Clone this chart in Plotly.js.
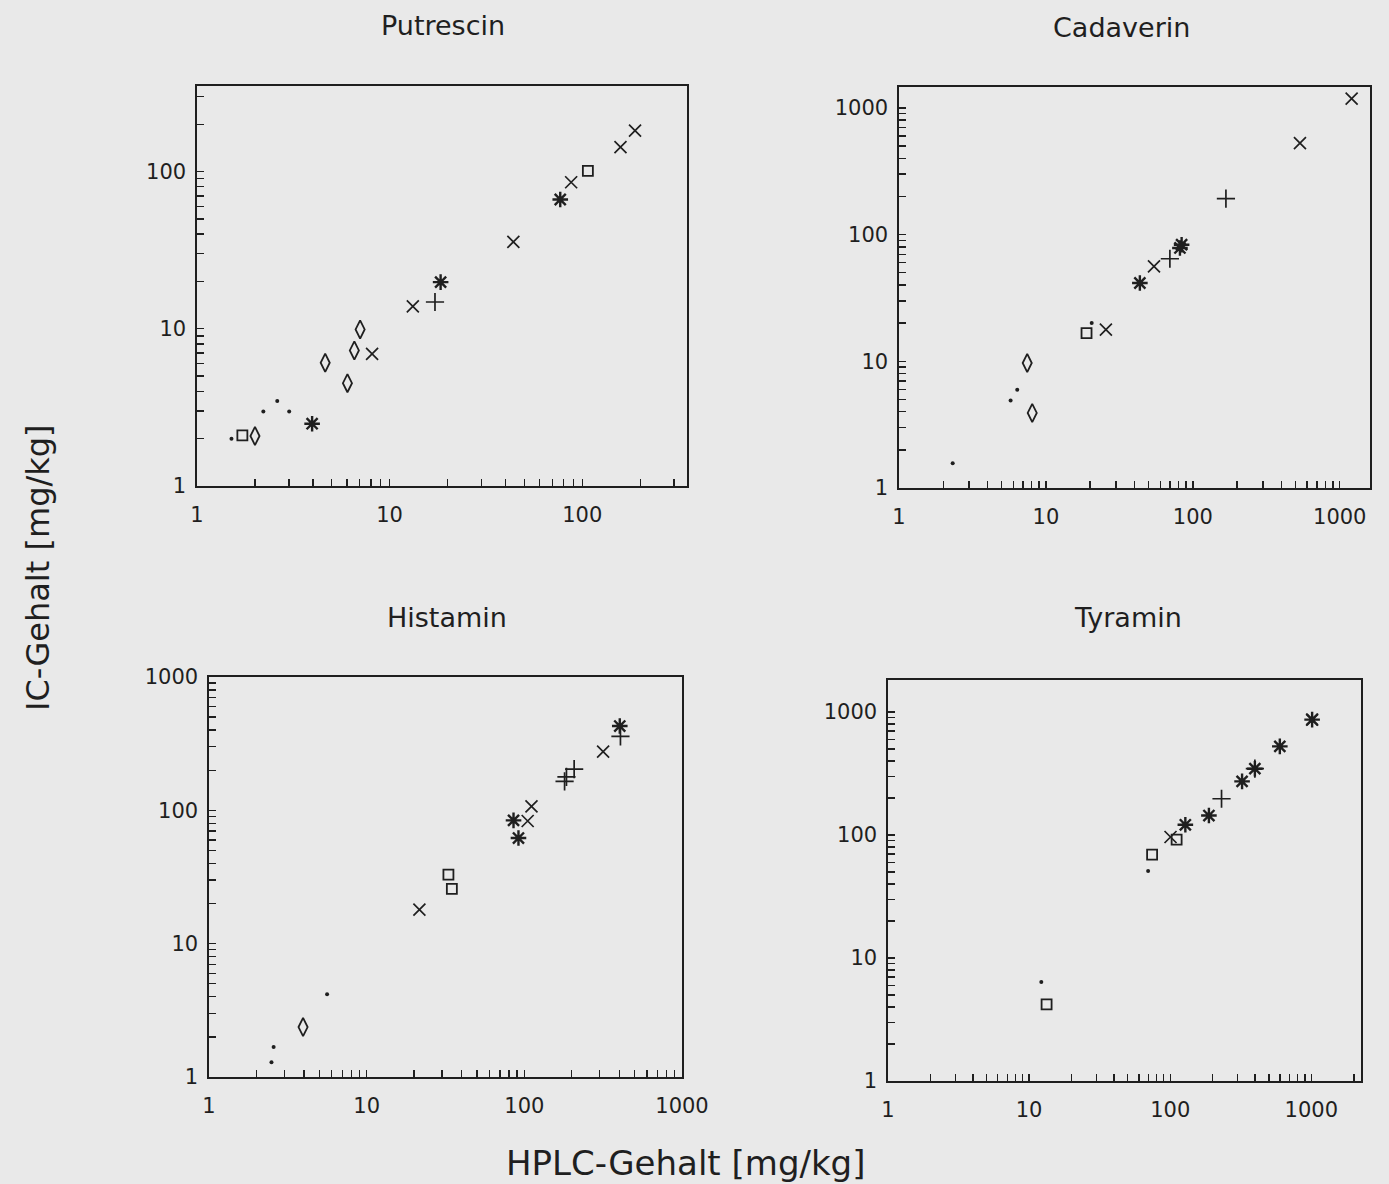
<!DOCTYPE html>
<html>
<head>
<meta charset="utf-8">
<script src="https://cdn.plot.ly/plotly-3.0.1.min.js"></script>
<style>
html,body{margin:0;padding:0;background:#e9e9e9;}
#chart{width:1389px;height:1184px;}
</style>
</head>
<body>
<div id="chart"></div>
<script>
// ---------- DATA ----------
const panelTitles = ["Putrescin", "Cadaverin", "Histamin", "Tyramin"];
const yAxisTitle = "IC-Gehalt [mg/kg]";
const xAxisTitle = "HPLC-Gehalt [mg/kg]";

// Putrescin
const putDotX = [1.51, 2.21, 2.61, 3.01];
const putDotY = [2.0, 2.98, 3.47, 2.98];
const putSquareX = [1.72, 107];
const putSquareY = [2.1, 101];
const putDiamondX = [2.0, 4.63, 6.04, 6.56, 7.03];
const putDiamondY = [2.08, 6.08, 4.51, 7.28, 9.9];
const putStarX = [3.96, 18.4, 76.9];
const putStarY = [2.49, 19.8, 66.4];
const putCrossX = [8.11, 13.2, 43.9, 87.6, 158, 188];
const putCrossY = [6.93, 13.9, 35.7, 85.5, 143, 182];
const putPlusX = [17.2];
const putPlusY = [14.8];

// Cadaverin
const cadDotX = [2.32, 5.75, 6.38, 20.5];
const cadDotY = [1.57, 4.91, 5.97, 20.1];
const cadSquareX = [18.9];
const cadSquareY = [16.7];
const cadDiamondX = [7.46, 8.07];
const cadDiamondY = [9.7, 3.91];
const cadStarX = [43.6, 81.7, 83.9];
const cadStarY = [41.5, 78.4, 83.2];
const cadCrossX = [25.6, 54.4, 536, 1205];
const cadCrossY = [17.8, 56.1, 528, 1183];
const cadPlusX = [69.8, 168];
const cadPlusY = [64.5, 192];

// Histamin
const hisDotX = [2.49, 2.57, 5.61];
const hisDotY = [1.29, 1.68, 4.17];
const hisSquareX = [33.0, 34.7];
const hisSquareY = [32.9, 25.8];
const hisDiamondX = [3.95];
const hisDiamondY = [2.37];
const hisStarX = [85.4, 91.8, 403];
const hisStarY = [84.1, 62.0, 429];
const hisCrossX = [21.6, 105, 111, 316];
const hisCrossY = [18.0, 83.2, 107, 276];
const hisPlusX = [180, 185, 207, 407];
const hisPlusY = [165, 178, 204, 359];

// Tyramin
const tyrDotX = [12.2, 69.7];
const tyrDotY = [6.38, 51.0];
const tyrSquareX = [13.3, 74.4, 111];
const tyrSquareY = [4.2, 69.2, 91.6];
const tyrDiamondX = [];
const tyrDiamondY = [];
const tyrStarX = [128, 188, 323, 398, 598, 1013];
const tyrStarY = [121, 144, 273, 346, 525, 866];
const tyrCrossX = [100.5, 1013];
const tyrCrossY = [96.3, 866];
const tyrPlusX = [231, 398];
const tyrPlusY = [197, 346];

// ---------- LAYOUT / STYLE ----------
const W = 1389, H = 1184;
const INK = "#1f1f1f";
const BG = "#e9e9e9";
const FONT = "DejaVu Sans, Liberation Sans, Arial, sans-serif";

// panel boxes in pixels: [left, right, top, bottom], and log ranges [xmax, ymax]
const boxes = [
  {l: 197, r: 687, t: 86, b: 486, xmax: 2.544, ymax: 2.544},
  {l: 899, r: 1370, t: 87, b: 488, xmax: 3.206, ymax: 3.165},
  {l: 209, r: 682, t: 677, b: 1077, xmax: 3.0, ymax: 3.0},
  {l: 888, r: 1361, t: 680, b: 1081, xmax: 3.352, ymax: 3.26}
];
const titlePos = [[443, 25], [1121, 27], [447, 617], [1128, 617]];

function logTicks(maxLog) {
  const vals = [], text = [];
  for (let k = 0; k <= Math.ceil(maxLog); k++) {
    for (let m = 1; m <= 9; m++) {
      const v = m * Math.pow(10, k);
      if (Math.log10(v) <= maxLog + 1e-9) {
        vals.push(v);
        text.push(m === 1 ? String(v) : "");
      }
    }
  }
  return {vals, text};
}

const series = [
  [
    [putDotX, putDotY, "dot"], [putSquareX, putSquareY, "square"], [putDiamondX, putDiamondY, "diamond"],
    [putStarX, putStarY, "star"], [putCrossX, putCrossY, "cross"], [putPlusX, putPlusY, "plus"]
  ],
  [
    [cadDotX, cadDotY, "dot"], [cadSquareX, cadSquareY, "square"], [cadDiamondX, cadDiamondY, "diamond"],
    [cadStarX, cadStarY, "star"], [cadCrossX, cadCrossY, "cross"], [cadPlusX, cadPlusY, "plus"]
  ],
  [
    [hisDotX, hisDotY, "dot"], [hisSquareX, hisSquareY, "square"], [hisDiamondX, hisDiamondY, "diamond"],
    [hisStarX, hisStarY, "star"], [hisCrossX, hisCrossY, "cross"], [hisPlusX, hisPlusY, "plus"]
  ],
  [
    [tyrDotX, tyrDotY, "dot"], [tyrSquareX, tyrSquareY, "square"], [tyrDiamondX, tyrDiamondY, "diamond"],
    [tyrStarX, tyrStarY, "star"], [tyrCrossX, tyrCrossY, "cross"], [tyrPlusX, tyrPlusY, "plus"]
  ]
];

const markerStyle = {
  dot:     {symbol: "circle", size: 4, color: INK, line: {width: 0}},
  square:  {symbol: "square-open", size: 10, color: INK, line: {width: 1.8, color: INK}},
  diamond: {symbol: "diamond-tall-open", size: 13, color: INK, line: {width: 1.8, color: INK}},
  star:    {symbol: "asterisk-open", size: 13, color: INK, line: {width: 2.4, color: INK}},
  cross:   {symbol: "x-thin-open", size: 12, color: INK, line: {width: 1.7, color: INK}},
  plus:    {symbol: "cross-thin-open", size: 13, color: INK, line: {width: 1.7, color: INK}}
};

const traces = [];
const layout = {
  width: W, height: H,
  margin: {l: 0, r: 0, t: 0, b: 0},
  paper_bgcolor: BG, plot_bgcolor: BG,
  showlegend: false,
  font: {family: FONT, color: INK, size: 21},
  annotations: []
};

boxes.forEach((bx, i) => {
  const n = i + 1;
  const xa = "xaxis" + (n === 1 ? "" : n);
  const ya = "yaxis" + (n === 1 ? "" : n);
  const xt = logTicks(bx.xmax), yt = logTicks(bx.ymax);
  const common = {
    type: "log", showgrid: false, zeroline: false,
    showline: true, linecolor: INK, linewidth: 1.6, mirror: true,
    ticks: "inside", ticklen: 7, tickwidth: 1.4, tickcolor: INK,
    tickmode: "array", tickfont: {family: FONT, size: 21, color: INK}
  };
  layout[xa] = Object.assign({}, common, {
    domain: [bx.l / W, bx.r / W], range: [0, bx.xmax],
    tickvals: xt.vals, ticktext: xt.text,
    anchor: "y" + (n === 1 ? "" : n), ticklabelstandoff: 9
  });
  layout[ya] = Object.assign({}, common, {
    domain: [(H - bx.b) / H, (H - bx.t) / H], range: [0, bx.ymax],
    tickvals: yt.vals, ticktext: yt.text,
    anchor: "x" + (n === 1 ? "" : n), ticklabelstandoff: 5
  });
  series[i].forEach(([xs, ys, kind]) => {
    if (!xs.length) return;
    traces.push({
      type: "scatter", mode: "markers", x: xs, y: ys,
      xaxis: "x" + (n === 1 ? "" : n), yaxis: "y" + (n === 1 ? "" : n),
      marker: markerStyle[kind], hoverinfo: "skip"
    });
  });
  layout.annotations.push({
    text: panelTitles[i], xref: "paper", yref: "paper",
    x: titlePos[i][0] / W, y: (H - titlePos[i][1]) / H,
    xanchor: "center", yanchor: "middle", showarrow: false,
    font: {family: FONT, size: 27, color: INK}
  });
});

layout.annotations.push({
  text: yAxisTitle, xref: "paper", yref: "paper",
  x: 38 / W, y: (H - 568) / H, textangle: -90,
  xanchor: "center", yanchor: "middle", showarrow: false,
  font: {family: FONT, size: 32, color: INK}
});
layout.annotations.push({
  text: xAxisTitle, xref: "paper", yref: "paper",
  x: 685 / W, y: (H - 1163) / H,
  xanchor: "center", yanchor: "middle", showarrow: false,
  font: {family: FONT, size: 34, color: INK}
});

Plotly.newPlot("chart", traces, layout, {displayModeBar: false, staticPlot: true});
</script>
</body>
</html>
